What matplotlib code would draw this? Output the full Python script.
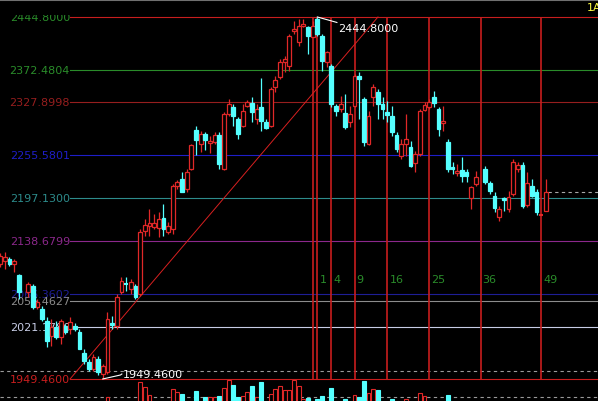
import numpy as np
import matplotlib
matplotlib.use('Agg')
import matplotlib.pyplot as plt
from matplotlib.patches import Rectangle
from matplotlib.lines import Line2D

nan = np.nan
#
# daily bars, numbered so that bar 0 is the one that printed the 2444.80 top
bars = np.arange(-68, 50)
opens = [2106.8, 2110.9, 2113.7, 2106.8, 2091.8, nan, 2068.5, 2076.7, 2048.0, 2045.2,
         2028.8, 2008.3, 2020.6, 2006.9, 2022.0, 2017.9, 2022.0, 2013.8, 1985.0, 1972.7,
         1963.1, 1976.8, 1956.3, 1959.0, 2026.1, 2022.0, 2068.5, 2080.8, 2072.6, 2076.7,
         2065.8, 2152.0, 2158.8, 2157.4, 2156.1, 2169.8, 2150.6, 2154.7, 2213.5, 2223.1,
         2209.4, 2236.8, 2290.2, 2271.0, 2284.7, 2272.4, 2273.8, 2283.3, 2236.8, 2312.1,
         2321.6, 2305.2, 2295.6, 2323.0, 2327.1, 2305.2, 2321.6, 2301.1, 2295.6, 2349.0,
         2362.7, 2383.2, 2377.8, 2425.6, 2410.6, 2432.5, 2431.1, 2417.4, 2442.1, 2418.8,
         2383.2, 2377.8, 2323.0, 2318.9, 2313.4, 2301.1, 2323.0, 2364.1, 2332.6, 2271.0,
         2335.3, 2342.2, 2325.8, 2314.8, 2309.3, 2283.3, 2254.6, 2271.0, 2266.9, 2245.0,
         2257.3, 2317.5, 2321.6, 2335.3, 2318.9, 2299.8, 2273.8, 2239.5, 2231.3, 2235.4,
         2232.7, 2197.1, 2216.3, nan, 2236.8, 2217.6, 2199.9, 2171.1, 2197.1, 2182.1,
         2202.6, 2236.8, 2242.3, 2187.5, 2213.5, 2205.3, 2172.5, 2179.3]
closes = [2117.8, 2116.4, 2106.8, 2110.9, 2068.5, nan, 2079.4, 2048.0, 2054.8, 2031.5,
          2001.4, 2020.6, 2006.9, 2028.8, 2013.8, 2027.4, 2017.9, 1990.5, 1974.1, 1963.1,
          1979.5, 1959.0, 1967.2, 2031.5, 2023.3, 2061.7, 2083.5, 2079.4, 2082.2, 2061.7,
          2150.6, 2160.2, 2162.9, 2162.9, 2168.4, 2154.7, 2158.8, 2213.5, 2219.0, 2205.3,
          2232.7, 2269.6, 2276.5, 2284.7, 2276.5, 2275.1, 2283.3, 2243.6, 2312.1, 2325.8,
          2309.3, 2284.7, 2316.2, 2328.5, 2314.8, 2318.9, 2302.5, 2292.9, 2346.3, 2358.6,
          2383.2, 2387.3, 2418.8, 2428.4, 2432.5, 2435.2, 2418.8, 2432.5, 2421.5, 2384.6,
          2396.9, 2325.8, 2316.2, 2325.8, 2294.3, 2312.1, 2364.1, 2360.0, 2273.8, 2309.3,
          2349.0, 2325.8, 2318.9, 2310.7, 2287.4, 2264.2, 2271.0, 2277.9, 2240.9, 2257.3,
          2316.2, 2324.4, 2328.5, 2327.1, 2291.5, 2302.5, 2236.8, 2236.8, 2234.1, 2227.2,
          2227.2, 2212.2, 2225.9, nan, 2219.0, 2206.7, 2183.4, 2182.1, 2194.4, 2198.5,
          2246.4, 2242.3, 2186.2, 2217.6, 2199.9, 2178.0, 2173.9, 2205.3]
highs = [2121.9, 2123.2, 2116.4, 2113.7, 2093.1, nan, 2082.2, 2079.4, 2058.9, 2049.3,
         2034.3, 2031.5, 2028.8, 2031.5, 2024.7, 2034.3, 2026.1, 2017.9, 1990.5, 1976.8,
         1983.7, 1980.9, 1970.0, 2041.1, 2035.7, 2065.8, 2089.0, 2089.0, 2086.3, 2079.4,
         2154.7, 2168.4, 2182.1, 2175.2, 2178.0, 2188.9, 2164.3, 2216.3, 2221.8, 2232.7,
         2236.8, 2271.0, 2295.6, 2288.8, 2287.4, 2282.0, 2287.4, 2287.4, 2314.8, 2332.6,
         2325.8, 2308.0, 2325.8, 2331.2, 2335.3, 2325.8, 2361.3, 2305.2, 2349.0, 2364.1,
         2387.3, 2391.4, 2421.5, 2439.3, 2442.1, 2442.1, 2432.5, 2439.3, 2444.8, 2421.5,
         2398.3, 2380.5, 2325.8, 2336.7, 2339.4, 2323.0, 2366.8, 2369.5, 2335.3, 2316.2,
         2353.1, 2346.3, 2335.3, 2329.9, 2323.0, 2287.4, 2277.9, 2312.1, 2275.1, 2261.4,
         2318.9, 2328.5, 2332.6, 2343.5, 2321.6, 2323.0, 2277.9, 2246.4, 2243.6, 2253.2,
         2236.8, 2213.5, 2234.1, nan, 2240.9, 2220.4, 2205.3, 2186.2, 2198.5, 2206.7,
         2250.5, 2246.4, 2246.4, 2232.7, 2223.1, 2209.4, 2173.9, 2223.1]
lows = [2102.7, 2100.0, 2104.1, 2095.9, 2058.9, nan, 2061.7, 2045.2, 2045.2, 2028.8,
        1993.2, 1994.6, 2004.2, 1997.3, 2011.0, 2011.0, 2015.1, 1990.5, 1970.0, 1960.4,
        1960.4, 1954.9, 1949.46, 1956.3, 2017.9, 2017.9, 2065.8, 2069.9, 2065.8, 2058.9,
        2063.0, 2145.1, 2145.1, 2154.7, 2143.8, 2145.1, 2147.9, 2147.9, 2209.4, 2205.3,
        2205.3, 2235.4, 2256.0, 2260.1, 2262.8, 2258.7, 2271.0, 2236.8, 2235.4, 2309.3,
        2295.6, 2277.9, 2294.3, 2321.6, 2301.1, 2298.4, 2288.8, 2291.5, 2294.3, 2342.2,
        2360.0, 2369.5, 2370.9, 2421.5, 2405.1, 2431.1, 2394.2, 2417.4, 2418.8, 2370.9,
        2376.4, 2321.6, 2309.3, 2314.8, 2291.5, 2294.3, 2321.6, 2305.2, 2268.3, 2269.6,
        2323.0, 2305.2, 2305.2, 2301.1, 2282.0, 2260.1, 2250.5, 2254.6, 2239.5, 2232.7,
        2254.6, 2316.2, 2318.9, 2321.6, 2282.0, 2288.8, 2232.7, 2230.0, 2227.2, 2219.0,
        2219.0, 2182.1, 2213.5, nan, 2216.3, 2202.6, 2178.0, 2165.7, 2179.3, 2178.0,
        2199.9, 2232.7, 2183.4, 2184.8, 2198.5, 2173.9, 2172.5, 2179.3]
volume = [30, 30, 30, 30, 30, 30, 30, 30, 30, 30,
          30, 30, 30, 30, 30, 30, 30, 30, 30, 30,
          30, 30, 30, 42, 30, 30, 30, 30, 30, 30,
          57, 52, 44, 30, 30, 30, 30, 50, 47, 45,
          30, 30, 48, 30, 42, 42, 42, 43, 51, 59,
          54, 42, 43, 47, 53, 42, 57, 30, 45, 50,
          53, 49, 49, 59, 53, 40, 41, 30, 40, 43,
          30, 51, 30, 30, 40, 30, 44, 42, 58, 46,
          50, 49, 30, 30, 40, 30, 30, 40, 30, 30,
          46, 43, 30, 30, 30, 30, 44, 30, 30, 30,
          30, 30, 30, 30, 30, 30, 30, 30, 30, 30,
          30, 30, 30, 30, 30, 30, 30, 30]
#
# golden-section levels between swing high and swing low
level_values = [2444.8, 2372.4804, 2327.8998, 2255.5801, 2197.13, 2138.6799,
                2066.3602, 2056.4627, 2021.1786, 1949.46]
level_labels = ['2444.8000', '2372.4804', '2327.8998', '2255.5801', '2197.1300',
                '2138.6799', '2066.3602', '2056.4627', '2021.1786', '1949.4600']
line_colors = ['#c81e1e', '#2a8c2a', '#961e1e', '#1e1ec8', '#2d8c8c',
               '#8c288c', '#1e1e96', '#8c8c8c', '#c8cde6', '#c81e1e']
text_colors = ['#2a8c2a', '#2a8c2a', '#961e1e', '#1e1ec8', '#2d8c8c',
               '#8c288c', '#1e1e96', '#8c8c8c', '#c8cde6', '#c81e1e']
swing_high, high_bar = 2444.8, 0
swing_low, low_bar = 1949.46, -46
# square time zones counted from bar -1
zone_start = -1
zone_steps = [0, 1, 4, 9, 16, 25, 36, 49]
trend_line = ([-53, 13], [1949.46, 2444.8])
last_price = 2205.3
#
RED = '#e02828'
CYAN = '#55ffff'
W, H = 598, 402
#
fig = plt.figure(figsize=(W / 100, H / 100), dpi=100, facecolor='black')
ax = fig.add_axes([0, 0, 1, (H - 16) / H])
ax.set_facecolor('black')
ax.set_xlim(-68.02, 60.17)
ax.set_ylim(1919.33, 2447.5)
ax.axis('off')
#
x_left = 70 / W
for val, lab, lc, tc in zip(level_values, level_labels, line_colors, text_colors):
    ax.axhline(val, xmin=x_left, xmax=1, color=lc, lw=0.8, zorder=1)
    ax.text(x_left, val, lab, color=tc, fontsize=8, ha='right', va='center',
            transform=ax.get_yaxis_transform(), zorder=2, clip_on=True)
#
ax.axhline(1960.4, color='#9a9a9a', lw=0.8, ls=(0, (3, 3)), zorder=1)
ax.hlines(last_price, 49.4, 61, color='#a8a8a8', lw=0.8, ls=(0, (3, 3)), zorder=1)
#
for n in zone_steps:
    xz = zone_start + n
    ax.vlines(xz, swing_low, swing_high, color='#c81e1e', lw=1.2, zorder=2)
    if n > 0:
        ax.text(xz + 0.45, 2085.6, '%d' % n, color='#2a8c2a', fontsize=8,
                ha='left', va='center', zorder=2)
#
ax.plot(trend_line[0], trend_line[1], color='#d82020', lw=0.7, zorder=2)
#
# candles: red bars hollow, cyan bars filled
w = 0.8
for xi, o, c, hi, lo in zip(bars, opens, closes, highs, lows):
    if np.isnan(o):
        continue
    up = c >= o
    col = RED if up else CYAN
    top, bot = max(o, c), min(o, c)
    ax.vlines(xi, top, hi, color=col, lw=0.9, zorder=3)
    ax.vlines(xi, lo, bot, color=col, lw=0.9, zorder=3)
    if top - bot < 1.5:
        ax.hlines((top + bot) / 2, xi - w / 2, xi + w / 2, color=col, lw=1.5, zorder=4)
    else:
        ax.add_patch(Rectangle((xi - w / 2, bot), w, top - bot,
                               facecolor='black' if up else col, edgecolor=col,
                               lw=0.9, zorder=4))
#
# marks for the swing extremes
ax.plot([high_bar, 4.2], [swing_high, 2437.3], color='white', lw=0.8, zorder=5)
ax.text(4.4, 2429.1, '%.4f' % swing_high, color='white', fontsize=8,
        ha='left', va='center', zorder=5)
ax.plot([low_bar, -42.2, -41.9], [swing_low, 1954.9, 1956.3], color='white', lw=0.8, zorder=5)
ax.text(-41.7, 1956.3, '%.4f' % swing_low, color='white', fontsize=8,
        ha='left', va='center', zorder=5)
#
# volume strip
axv = fig.add_axes([0, 0, 1, 22 / H])
axv.set_facecolor('none')
axv.set_xlim(-68.02, 60.17)
axv.set_ylim(38, 60)
axv.axis('off')
axv.axhline(42, color='#9a9a9a', lw=0.8, ls=(0, (3, 3)), zorder=1)
for xi, o, c, v in zip(bars, opens, closes, volume):
    if np.isnan(o):
        continue
    up = c >= o
    col = RED if up else CYAN
    axv.bar(xi, v, width=w, facecolor='black' if up else col, edgecolor=col,
            lw=0.8, zorder=3)
#
fig.add_artist(Line2D([0, 1], [1 - 1 / H, 1 - 1 / H], color='#707070', lw=1.5,
                      transform=fig.transFigure))
fig.text(587 / W, 1 - 8 / H, '1A', color='#ffff40', fontsize=8, ha='left', va='center')
#
fig.savefig('out.png', dpi=100, facecolor='black')
